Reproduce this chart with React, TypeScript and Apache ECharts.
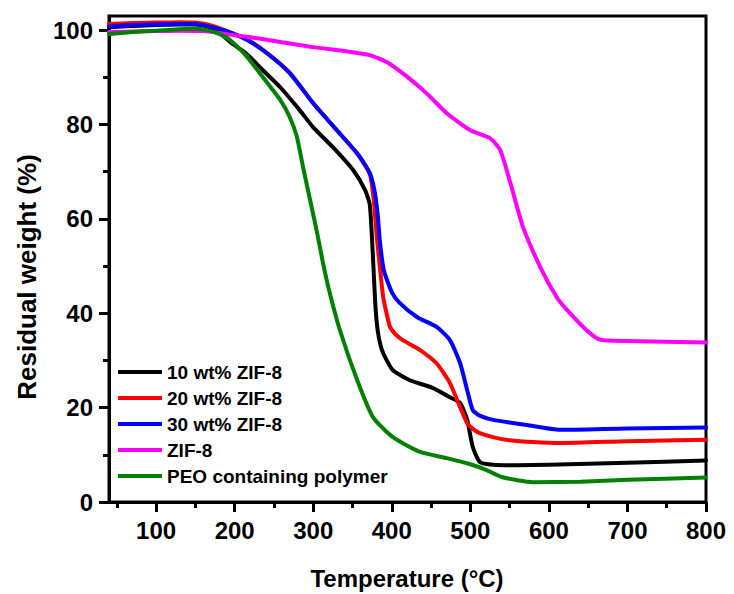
import React, { useEffect, useRef } from "react";
import * as echarts from "echarts";

// ---- Data ----
const seriesNames = ["10 wt% ZIF-8", "20 wt% ZIF-8", "30 wt% ZIF-8", "ZIF-8", "PEO containing polymer"];
const seriesColors = ["#000000", "#ff0000", "#0000ff", "#ff00ff", "#008000"];

const tempZ10 = [40, 70, 100, 130, 150, 165, 180, 195, 215, 236, 258, 283, 300, 325, 351, 366, 372, 376, 379, 382, 386, 390, 401, 423, 452, 474, 487, 496, 503, 512, 529, 560, 600, 700, 800];
const wZ10 = [100.6, 100.9, 101.1, 101.2, 101.2, 100.8, 99.6, 97.4, 95.0, 91.5, 87.9, 83.0, 79.4, 75.2, 70.3, 66.1, 63.0, 52.0, 42.0, 36.4, 33.0, 31.2, 28.0, 25.8, 24.2, 22.2, 21.0, 17.4, 11.7, 8.5, 7.9, 7.8, 7.9, 8.3, 8.8];

const tempZ20 = [40, 70, 100, 130, 150, 170, 195, 216, 241, 270, 300, 330, 356, 372, 377, 381, 385, 389, 394, 398, 405, 414, 436, 457, 474, 487, 496, 505, 512, 530, 550, 580, 614, 700, 800];
const wZ20 = [101.3, 101.5, 101.6, 101.7, 101.6, 101.0, 99.5, 98.0, 95.2, 91.0, 84.5, 78.8, 73.8, 69.5, 64.0, 56.0, 49.5, 43.5, 39.5, 37.0, 35.5, 34.3, 32.2, 29.4, 25.2, 20.1, 16.7, 15.3, 14.6, 13.7, 13.1, 12.7, 12.5, 12.9, 13.2];

const tempZ30 = [40, 70, 100, 130, 150, 172, 195, 216, 241, 270, 300, 330, 356, 372, 378, 382, 385, 390, 400, 410, 432, 457, 474, 487, 496, 503, 512, 529, 572, 614, 700, 800];
const wZ30 = [100.8, 101.1, 101.2, 101.3, 101.3, 100.6, 99.5, 97.9, 95.1, 90.9, 84.5, 78.8, 73.9, 69.7, 66.0, 61.0, 55.0, 49.0, 44.5, 42.2, 39.2, 37.1, 34.3, 29.4, 23.7, 19.5, 18.3, 17.4, 16.3, 15.3, 15.6, 15.8];

const tempZif = [40, 70, 100, 130, 160, 180, 200, 216, 258, 300, 343, 372, 394, 419, 445, 470, 500, 525, 538, 551, 567, 589, 610, 623, 648, 665, 700, 800];
const wZif = [99.6, 99.7, 99.8, 99.9, 99.8, 99.4, 98.9, 98.6, 97.5, 96.4, 95.5, 94.7, 93.2, 90.2, 86.5, 82.4, 78.8, 77.1, 74.6, 67.6, 58.3, 49.8, 43.4, 40.7, 36.4, 34.4, 34.1, 33.8];

const tempPeo = [40, 70, 100, 130, 150, 165, 180, 194, 216, 236, 258, 270, 279, 287, 296, 305, 312, 320, 334, 356, 376, 401, 436, 470, 500, 520, 540, 560, 580, 640, 700, 800];
const wPeo = [99.2, 99.6, 99.9, 100.2, 100.3, 100.0, 99.2, 97.9, 94.3, 90.0, 85.2, 81.6, 77.5, 71.0, 64.0, 57.0, 51.0, 45.0, 36.4, 25.8, 18.0, 13.8, 10.6, 9.3, 8.0, 6.8, 5.3, 4.6, 4.2, 4.3, 4.7, 5.2];

const seriesTemps = [tempZ10, tempZ20, tempZ30, tempZif, tempPeo];
const seriesWeights = [wZ10, wZ20, wZ30, wZif, wPeo];

const xMajorTicks = [100, 200, 300, 400, 500, 600, 700, 800];
const xMinorTicks = [50, 150, 250, 350, 450, 550, 650, 750];
const yMajorTicks = [0, 20, 40, 60, 80, 100];
const yMinorTicks = [10, 30, 50, 70, 90];

const xTitle = "Temperature (°C)";
const yTitle = "Residual weight (%)";

const FONT = '"Liberation Sans", Arial, Helvetica, sans-serif';

export default function App() {
  const ref = useRef<HTMLDivElement>(null);

  useEffect(() => {
    if (!ref.current) return;
    const chart = echarts.init(ref.current, null, { renderer: "svg" });

    const series = seriesNames.map((name, i) => ({
      name,
      type: "line",
      xAxisIndex: 0,
      yAxisIndex: 0,
      data: seriesTemps[i].map((t, j) => [t, seriesWeights[i][j]]),
      showSymbol: false,
      symbol: "none",
      smooth: 0.2,
      lineStyle: { color: seriesColors[i], width: 4, join: "round", cap: "round" },
      itemStyle: { color: seriesColors[i] },
      z: 2 + i,
    }));

    const option: any = {
      animation: false,
      backgroundColor: "#ffffff",
      grid: {
        left: 109,
        right: 28,
        top: 16,
        bottom: 92,
        show: true,
        borderColor: "#000",
        borderWidth: 3,
        backgroundColor: "transparent",
        containLabel: false,
        outerBoundsMode: "none",
      },
      legend: {
        orient: "vertical",
        left: 118,
        top: 362,
        icon: "rect",
        itemWidth: 44,
        itemHeight: 4,
        itemGap: 6,
        padding: 0,
        textStyle: { fontFamily: FONT, fontWeight: "bold", fontSize: 19, color: "#000", lineHeight: 20 },
        data: seriesNames,
      },
      xAxis: [
        {
          type: "value",
          min: 40,
          max: 800,
          position: "bottom",
          axisLine: { show: true, lineStyle: { color: "#000", width: 3 } },
          axisTick: { show: true, inside: false, length: 10, lineStyle: { color: "#000", width: 3 }, customValues: xMajorTicks },
          axisLabel: { show: true, margin: 16, customValues: xMajorTicks, fontFamily: FONT, fontWeight: "bold", fontSize: 24, color: "#000" },
          splitLine: { show: false },
        },
        {
          type: "value",
          min: 40,
          max: 800,
          position: "bottom",
          axisLine: { show: false },
          axisTick: { show: true, inside: false, length: 6, lineStyle: { color: "#000", width: 3 }, customValues: xMinorTicks },
          axisLabel: { show: false },
          splitLine: { show: false },
        },
      ],
      yAxis: [
        {
          type: "value",
          min: 0,
          max: 103,
          position: "left",
          axisLine: { show: true, lineStyle: { color: "#000", width: 3 } },
          axisTick: { show: true, inside: false, length: 10, lineStyle: { color: "#000", width: 3 }, customValues: yMajorTicks },
          axisLabel: { show: true, margin: 16, customValues: yMajorTicks, fontFamily: FONT, fontWeight: "bold", fontSize: 24, color: "#000" },
          splitLine: { show: false },
        },
        {
          type: "value",
          min: 0,
          max: 103,
          position: "left",
          axisLine: { show: false },
          axisTick: { show: true, inside: false, length: 6, lineStyle: { color: "#000", width: 3 }, customValues: yMinorTicks },
          axisLabel: { show: false },
          splitLine: { show: false },
        },
      ],
      graphic: [
        {
          type: "text",
          x: 407,
          y: 578,
          style: {
            text: xTitle,
            fontFamily: FONT,
            fontWeight: "bold",
            fontSize: 24,
            fill: "#000",
            align: "center",
            verticalAlign: "middle",
          },
        },
        {
          type: "text",
          x: 27,
          y: 277,
          rotation: Math.PI / 2,
          style: {
            text: yTitle,
            fontFamily: FONT,
            fontWeight: "bold",
            fontSize: 26,
            fill: "#000",
            align: "center",
            verticalAlign: "middle",
          },
        },
      ],
      series,
    };

    chart.setOption(option);
    return () => {
      chart.dispose();
    };
  }, []);

  return (
    <div
      ref={ref}
      style={{ position: "fixed", left: 0, top: 0, width: 734, height: 594, background: "#fff" }}
    />
  );
}
